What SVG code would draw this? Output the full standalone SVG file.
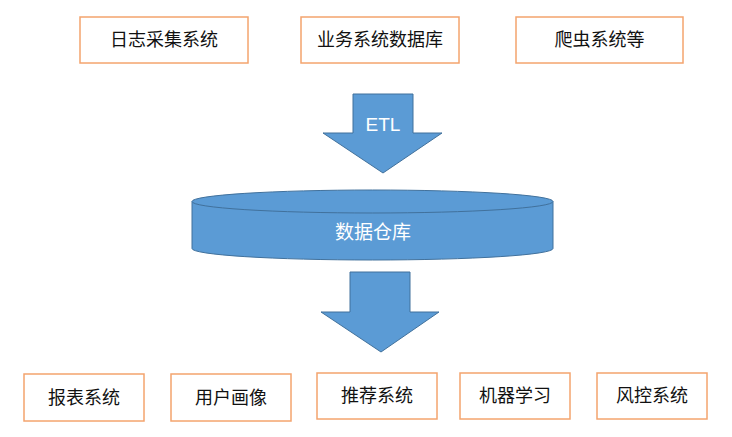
<svg xmlns="http://www.w3.org/2000/svg" width="732" height="437" viewBox="0 0 732 437">
<style>
.box{fill:#fff;stroke:#F4A46E;stroke-width:1.5}
.lbl{font-family:"Liberation Sans","Noto Sans CJK SC",sans-serif;font-size:18px;fill:#111;text-anchor:middle;dominant-baseline:central}
.blue{fill:#5B9BD5;stroke:#41719C;stroke-width:1}
.wt{font-family:"Liberation Sans","Noto Sans CJK SC",sans-serif;fill:#fff;text-anchor:middle;dominant-baseline:central}
</style>
<rect width="732" height="437" fill="#fff"/>
<g id="src-log"><rect class="box" x="80" y="17" width="168" height="46"/><text class="lbl" x="164" y="40">日志采集系统</text></g>
<g id="src-db"><rect class="box" x="301" y="17" width="158" height="46"/><text class="lbl" x="380" y="40">业务系统数据库</text></g>
<g id="src-crawler"><rect class="box" x="516" y="17" width="167" height="46"/><text class="lbl" x="599.5" y="40">爬虫系统等</text></g>
<g id="connectors">
<g id="etl-arrow"><polygon class="blue" points="353,94 413,94 413,133 442,133 383,173 323,133 353,133"/><text class="wt" x="383" y="124" font-size="19">ETL</text></g>
<g id="out-arrow"><polygon class="blue" points="350,272 410,272 410,312 439,312 381,352 321,312 350,312"/></g>
</g>
<g id="warehouse">
<path class="blue" d="M192,201.5 L192,248.5 A180.5,11.5 0 0 0 553,248.5 L553,201.5 Z"/>
<ellipse class="blue" cx="372.5" cy="201.5" rx="180.5" ry="11.5"/>
<text class="wt" x="373" y="232" font-size="19">数据仓库</text>
</g>
<g id="app-report"><rect class="box" x="24" y="374" width="120" height="47"/><text class="lbl" x="84" y="397.5">报表系统</text></g>
<g id="app-profile"><rect class="box" x="171" y="374" width="120" height="47"/><text class="lbl" x="231" y="397.5">用户画像</text></g>
<g id="app-recommend"><rect class="box" x="317" y="373" width="120" height="46"/><text class="lbl" x="377" y="396">推荐系统</text></g>
<g id="app-ml"><rect class="box" x="460" y="373" width="110" height="46"/><text class="lbl" x="515" y="396">机器学习</text></g>
<g id="app-risk"><rect class="box" x="597" y="373" width="110" height="46"/><text class="lbl" x="652" y="396">风控系统</text></g>
</svg>
